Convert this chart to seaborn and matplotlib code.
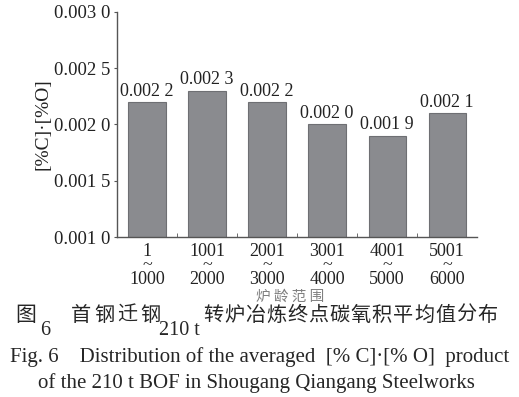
import numpy as np
import pandas as pd
import matplotlib.pyplot as plt
import seaborn as sns

# data
ranges = ['1\n~\n1000', '1001\n~\n2000', '2001\n~\n3000',
          '3001\n~\n4000', '4001\n~\n5000', '5001\n~\n6000']
values = [0.0022, 0.0023, 0.0022, 0.0020, 0.0019, 0.0021]
value_labels = ['0.002 2', '0.002 3', '0.002 2', '0.002 0', '0.001 9', '0.002 1']
yticks = [0.0010, 0.0015, 0.0020, 0.0025, 0.0030]
ytick_labels = ['0.001 0', '0.001 5', '0.002 0', '0.002 5', '0.003 0']

df = pd.DataFrame({'range': ranges, 'cp': values})

sns.set_style('ticks')
plt.rcParams['font.family'] = ['Liberation Serif', 'Noto Sans CJK SC']

W, H = 519, 397
fig = plt.figure(figsize=(W / 100, H / 100), dpi=100)
ax = fig.add_axes([0.2254, 0.403, 0.694, 0.567])

sns.barplot(x='range', y='cp', data=df, color='#8a8b8f', saturation=1,
            width=0.62, edgecolor='#6e6f73', linewidth=0.8, ax=ax)

for i, (v, lab) in enumerate(zip(values, value_labels)):
    ax.text(i, v + 0.00002, lab, ha='center', va='bottom', fontsize=13,
            color='#222222')

ax.set_ylim(0.001, 0.003)
ax.set_xlim(-0.5, 5.5)
ax.set_yticks(yticks)
ax.set_yticklabels(ytick_labels, fontsize=13.5, color='#222222')
ax.set_xticks(range(len(ranges)))
ax.set_xticklabels(ranges, fontsize=13, color='#222222', linespacing=0.8)
ax.tick_params(axis='x', length=0, pad=4)
ax.set_xticks(np.arange(0.5, 5.5, 1), minor=True)
ax.tick_params(axis='x', which='minor', direction='in', length=3,
               color='#555555')
ax.tick_params(axis='y', direction='out', length=2.5, color='#555555', pad=2)

ax.set_xlabel('炉 龄 范 围', family=['Noto Sans CJK SC'], fontsize=10.5,
              color='#808080')
ax.xaxis.set_label_coords(0.482, -0.236)
ax.set_ylabel('[%C]·[%O]', fontsize=14, color='#222222', labelpad=2)

for s in ['top', 'right']:
    ax.spines[s].set_visible(False)
for s in ['left', 'bottom']:
    ax.spines[s].set_color('#555555')
    ax.spines[s].set_linewidth(1.0)


# caption: CJK text is set with wide letter spacing, one glyph at a time
def spaced(s, x0, pitch, y, size):
    for k, ch in enumerate(s):
        fig.text((x0 + k * pitch) / W, y, ch, family=['Noto Sans CJK SC'],
                 fontsize=size, va='baseline', weight='medium')


spaced('图', 15, 23, 0.192, 15)
fig.text(40 / W, 0.157, '6', fontsize=14.5, va='baseline')
spaced('首钢迁钢', 71, 23, 0.192, 14.5)
fig.text(159 / W, 0.157, '210 t', fontsize=14.5, va='baseline')
spaced('转炉冶炼终点碳氧积平均值分布', 203, 21.1, 0.192, 14.5)

fig.text(0.5, 0.088,
         'Fig. 6    Distribution of the averaged  [% C]·[% O]  product',
         ha='center', fontsize=15, va='baseline')
fig.text(0.495, 0.022,
         'of the 210 t BOF in Shougang Qiangang Steelworks',
         ha='center', fontsize=15, va='baseline')

plt.savefig('out.png', dpi=100)
